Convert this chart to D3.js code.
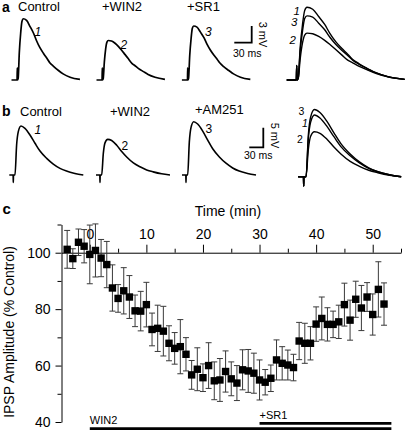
<!DOCTYPE html>
<html><head><meta charset="utf-8">
<script src="https://cdn.jsdelivr.net/npm/d3@7"></script>
<style>body{margin:0;background:#fff}svg{display:block;font-family:Arial,"Liberation Sans",sans-serif}</style>
</head><body>
<script>
// ---------- data: panel a traces (ms, mV) ----------
const timeA = [-10, -0.4, 0, 0.4, 1.5, 3.5, 5.8, 8, 10.3, 16, 22, 28, 33, 39, 45, 51, 56, 62, 71, 79, 91, 108];
const traceA1 = [0, 0, 2.2, 0, 0.3, 5.0, 8.4, 10.5, 11.0, 10.7, 9.6, 8.4, 7.1, 5.8, 4.8, 3.9, 3.1, 2.5, 1.7, 1.1, 0.5, 0.1];
const traceA2 = [0, 0, 2.2, 0, 0.2, 3.2, 5.6, 6.8, 7.1, 7.0, 6.6, 6.0, 5.4, 4.6, 3.8, 3.0, 2.6, 2.1, 1.5, 1.0, 0.5, 0.1];
const traceA3 = [0, 0, 2.2, 0, 0.3, 4.4, 7.4, 9.3, 9.7, 9.5, 8.6, 7.6, 6.5, 5.4, 4.5, 3.7, 3.0, 2.4, 1.7, 1.1, 0.5, 0.1];
const titlesA = ["Control", "+WIN2", "+SR1"];
const scaleBarA = {ms: 30, mV: 3};

// ---------- data: panel b traces (ms, mV) ----------
const timeB = [-8.6, -0.4, 0, 0.4, 3.6, 7.1, 10.7, 16.5, 25, 35.8, 46.5, 57.2, 71.5, 85.7, 100, 114, 132, 150];
const traceB1 = [0, 0, -1.9, 0, 0, 7.65, 11.05, 12.5, 11.9, 10.2, 8.1, 6.1, 4.25, 2.8, 1.7, 1.0, 0.4, 0];
const traceB2 = [0, 0, -1.9, 0, 0, 5.5, 8.2, 9.1, 8.8, 7.6, 6.0, 4.6, 3.1, 2.1, 1.3, 0.8, 0.3, 0];
const traceB3 = [0, 0, -1.9, 0, 0, 8.4, 12.1, 13.6, 13.0, 11.2, 8.9, 6.7, 4.6, 3.0, 1.8, 1.0, 0.4, 0];
const titlesB = ["Control", "+WIN2", "+AM251"];
const scaleBarB = {ms: 30, mV: 5};

// ---------- data: panel c time course ----------
const timeMin = [-4,-3,-2,-1,0,1,2,3,4,5,6,7,8,9,10,11,12,13,14,15,16,17,18,19,20,21,22,23,24,25,26,27,28,29,30,31,32,33,34,35,36,37,38,39,40,41,42,43,44,45,46,47,48,49,50,51,52];
const amplitude = [101.2,97.9,103.7,102.3,99.4,100.8,98.1,95.8,87.5,83.8,86.5,84.3,79.4,79.3,81.6,72.8,73.2,72.2,67.9,66.1,66.7,64.0,56.7,58.7,55.7,60.0,54.6,54.9,57.9,55.3,53.8,58.5,58.1,57.3,54.9,54.1,55.5,62.0,60.8,60.2,59.3,68.7,67.9,67.9,74.7,76.7,74.6,74.6,75.5,81.6,76.1,83.5,80.4,84.3,78.1,87.0,81.8];
const sem = [6.7,3.5,4.7,5.9,10.4,9.4,6.6,8.2,8.2,4.9,8.2,7.6,5.6,7.0,7.9,5.8,8.2,8.8,6.2,5.6,9.6,5.9,5.1,7.6,4.9,8.1,6.7,7.6,7.3,6.0,6.2,7.1,7.6,7.1,7.1,4.5,4.7,7.1,5.9,5.3,4.7,6.6,7.1,5.9,6.1,7.6,5.9,4.7,5.9,7.6,7.1,6.4,8.0,5.1,7.3,9.8,7.5];
const xMajorTicks = [0,10,20,30,40,50];
const xMinorTicks = [5,15,25,35,45,55];
const yMajorTicks = [40,60,80,100];
const yMinorTicks = [50,70,90,110];
const drugBars = [{label:"WIN2", start:0, end:53.3}, {label:"+SR1", start:30, end:53.3}];

const svg = d3.select("body").append("svg").attr("width",406).attr("height",432);
const F = 'Arial,"Liberation Sans",sans-serif';

function drawTrace(g, time, vals, xs, ys, w) {
  const line = d3.line().x((d,i)=>xs(time[i])).y(d=>ys(d)).curve(d3.curveMonotoneX);
  g.append("path").attr("d", line(vals)).attr("fill","none").attr("stroke","#000")
    .attr("stroke-width", w).attr("stroke-linejoin","round");
}

// ---------- panel a ----------
const ga = svg.append("g");
ga.append("text").attr("x",2).attr("y",11.5).attr("font-size",14).attr("font-weight","bold").text("a");
const offA = [17.3, 102.3, 187.7];
const yA = d3.scaleLinear().domain([0,3]).range([80,63.3]);
[traceA1, traceA2, traceA3].forEach((tr,i)=>{
  const xA = d3.scaleLinear().domain([0,30]).range([offA[i], offA[i]+17.4]);
  drawTrace(ga, timeA, tr, xA, yA, 1.7);
});
[[18,11],[102,11],[187,11]].forEach((p,i)=>ga.append("text").attr("x",p[0]).attr("y",p[1]).attr("font-size",13).text(titlesA[i]));
[["1",34.5,35.5],["2",120.5,49],["3",205,35.5]].forEach(p=>ga.append("text").attr("x",p[1]).attr("y",p[2]).attr("font-size",12).attr("font-style","italic").text(p[0]));
// scale bar a
{
  const xs = d3.scaleLinear().domain([0,30]).range([0,17.4]);
  const bx = 251.7, by = 42.7;
  ga.append("path").attr("d",`M${bx-xs(scaleBarA.ms)},${by}H${bx}V${yA(scaleBarA.mV)-(80-by)}`)
    .attr("fill","none").attr("stroke","#000").attr("stroke-width",1.8);
  ga.append("text").attr("x",233).attr("y",56.5).attr("font-size",10.5).text(scaleBarA.ms+" ms");
  ga.append("text").attr("transform","translate(258.5,34.5) rotate(90)").attr("text-anchor","middle").attr("font-size",11).text(scaleBarA.mV+" mV");
}
// overlay a
{
  const xo = d3.scaleLinear().domain([0,100]).range([296.7,396.7]);
  const yo = d3.scaleLinear().domain([0,11]).range([80,7.3]);
  [traceA2, traceA3, traceA1].forEach(tr=>drawTrace(ga, timeA, tr, xo, yo, 1.4));
  [["1",293.5,15],["3",291,25.5],["2",289.5,43.5]].forEach(p=>ga.append("text").attr("x",p[1]).attr("y",p[2]).attr("font-size",11.5).attr("font-style","italic").text(p[0]));
}

// ---------- panel b ----------
const gb = svg.append("g");
gb.append("text").attr("x",2).attr("y",115.5).attr("font-size",14).attr("font-weight","bold").text("b");
const offB = [13.3, 100, 186];
const yB = d3.scaleLinear().domain([0,5]).range([175,155.4]);
[traceB1, traceB2, traceB3].forEach((tr,i)=>{
  const xB = d3.scaleLinear().domain([0,30]).range([offB[i], offB[i]+14]);
  drawTrace(gb, timeB, tr, xB, yB, 1.6);
});
[[20,115.5],[110,115.5],[195,114]].forEach((p,i)=>gb.append("text").attr("x",p[0]).attr("y",p[1]).attr("font-size",13).text(titlesB[i]));
[["1",34.5,134,"italic"],["2",121.5,149.5,"normal"],["3",205.5,132.5,"normal"]].forEach(p=>gb.append("text").attr("x",p[1]).attr("y",p[2]).attr("font-size",12).attr("font-style",p[3]).text(p[0]));
{
  const xs = d3.scaleLinear().domain([0,30]).range([0,14]);
  const bx = 263.3, by = 147.3;
  gb.append("path").attr("d",`M${bx-xs(scaleBarB.ms)},${by}H${bx}V${yB(scaleBarB.mV)-(175-by)}`)
    .attr("fill","none").attr("stroke","#000").attr("stroke-width",1.8);
  gb.append("text").attr("x",244).attr("y",159).attr("font-size",10.5).text(scaleBarB.ms+" ms");
  gb.append("text").attr("transform","translate(270.5,135.5) rotate(90)").attr("text-anchor","middle").attr("font-size",11).text(scaleBarB.mV+" mV");
}
{
  const xo = d3.scaleLinear().domain([0,100]).range([303.7,368.7]);
  const yo = d3.scaleLinear().domain([0,12.5]).range([176.7,115]);
  [traceB2, traceB1, traceB3].forEach(tr=>drawTrace(gb, timeB, tr, xo, yo, 1.4));
  [["3",298.5,115,"normal"],["1",302,127,"italic"],["2",297,143,"normal"]].forEach(p=>gb.append("text").attr("x",p[1]).attr("y",p[2]).attr("font-size",10.5).attr("font-style",p[3]).text(p[0]));
}

// ---------- panel c ----------
const gc = svg.append("g").attr("font-family",F);
gc.append("text").attr("x",2.5).attr("y",214).attr("font-size",15).attr("font-weight","bold").text("c");
const xC = d3.scaleLinear().domain([-5,55]).range([61.5,401]);
const yC = d3.scaleLinear().domain([40,110]).range([422,224.5]);

const xAx = gc.append("g").attr("transform",`translate(0,${yC(100)})`)
  .call(d3.axisTop(xC).tickValues(xMajorTicks).tickSize(8).tickPadding(6).tickSizeOuter(0));
const xAxMin = gc.append("g").attr("transform",`translate(0,${yC(100)})`)
  .call(d3.axisTop(xC).tickValues(xMinorTicks).tickSize(4).tickFormat("").tickSizeOuter(0));
xAxMin.select(".domain").remove();
const yAx = gc.append("g").attr("transform",`translate(${xC(-5)},0)`)
  .call(d3.axisLeft(yC).tickValues(yMajorTicks).tickSize(6).tickPadding(5).tickSizeOuter(0));
const yAxMin = gc.append("g").attr("transform",`translate(${xC(-5)},0)`)
  .call(d3.axisLeft(yC).tickValues(yMinorTicks).tickSize(4).tickFormat("").tickSizeOuter(0));
yAxMin.select(".domain").remove();
gc.selectAll(".tick text").attr("font-size",14).attr("font-family",F).attr("fill","#000");
gc.selectAll(".tick line, .domain").attr("stroke","#000").attr("stroke-width",1);

gc.append("text").attr("x",228).attr("y",216).attr("text-anchor","middle").attr("font-size",14).text("Time (min)");
gc.append("text").attr("transform","translate(13.5,332) rotate(-90)").attr("text-anchor","middle").attr("font-size",14).text("IPSP Amplitude (% Control)");

// error bars
const eb = gc.append("g").attr("stroke","#3a3a3a").attr("stroke-width",1);
timeMin.forEach((t,i)=>{
  const x = xC(t), y1 = yC(amplitude[i]+sem[i]), y2 = yC(amplitude[i]-sem[i]);
  eb.append("line").attr("x1",x).attr("x2",x).attr("y1",y1).attr("y2",y2);
  eb.append("line").attr("x1",x-3).attr("x2",x+3).attr("y1",y1).attr("y2",y1);
  eb.append("line").attr("x1",x-3).attr("x2",x+3).attr("y1",y2).attr("y2",y2);
});
gc.append("g").selectAll("rect").data(timeMin).join("rect")
  .attr("x",(t)=>xC(t)-3.7).attr("y",(t,i)=>yC(amplitude[i])-3.7)
  .attr("width",7.4).attr("height",7.4).attr("fill","#000");

// drug application bars
const barY = [428.7, 423.3], labY = [424, 419];
drugBars.forEach((b,i)=>{
  gc.append("line").attr("x1",xC(b.start)).attr("x2",xC(b.end)).attr("y1",barY[i]).attr("y2",barY[i])
    .attr("stroke","#000").attr("stroke-width",2.7);
  gc.append("text").attr("x",xC(b.start)).attr("y",labY[i]).attr("font-size",11).text(b.label);
});
</script>
</body></html>
